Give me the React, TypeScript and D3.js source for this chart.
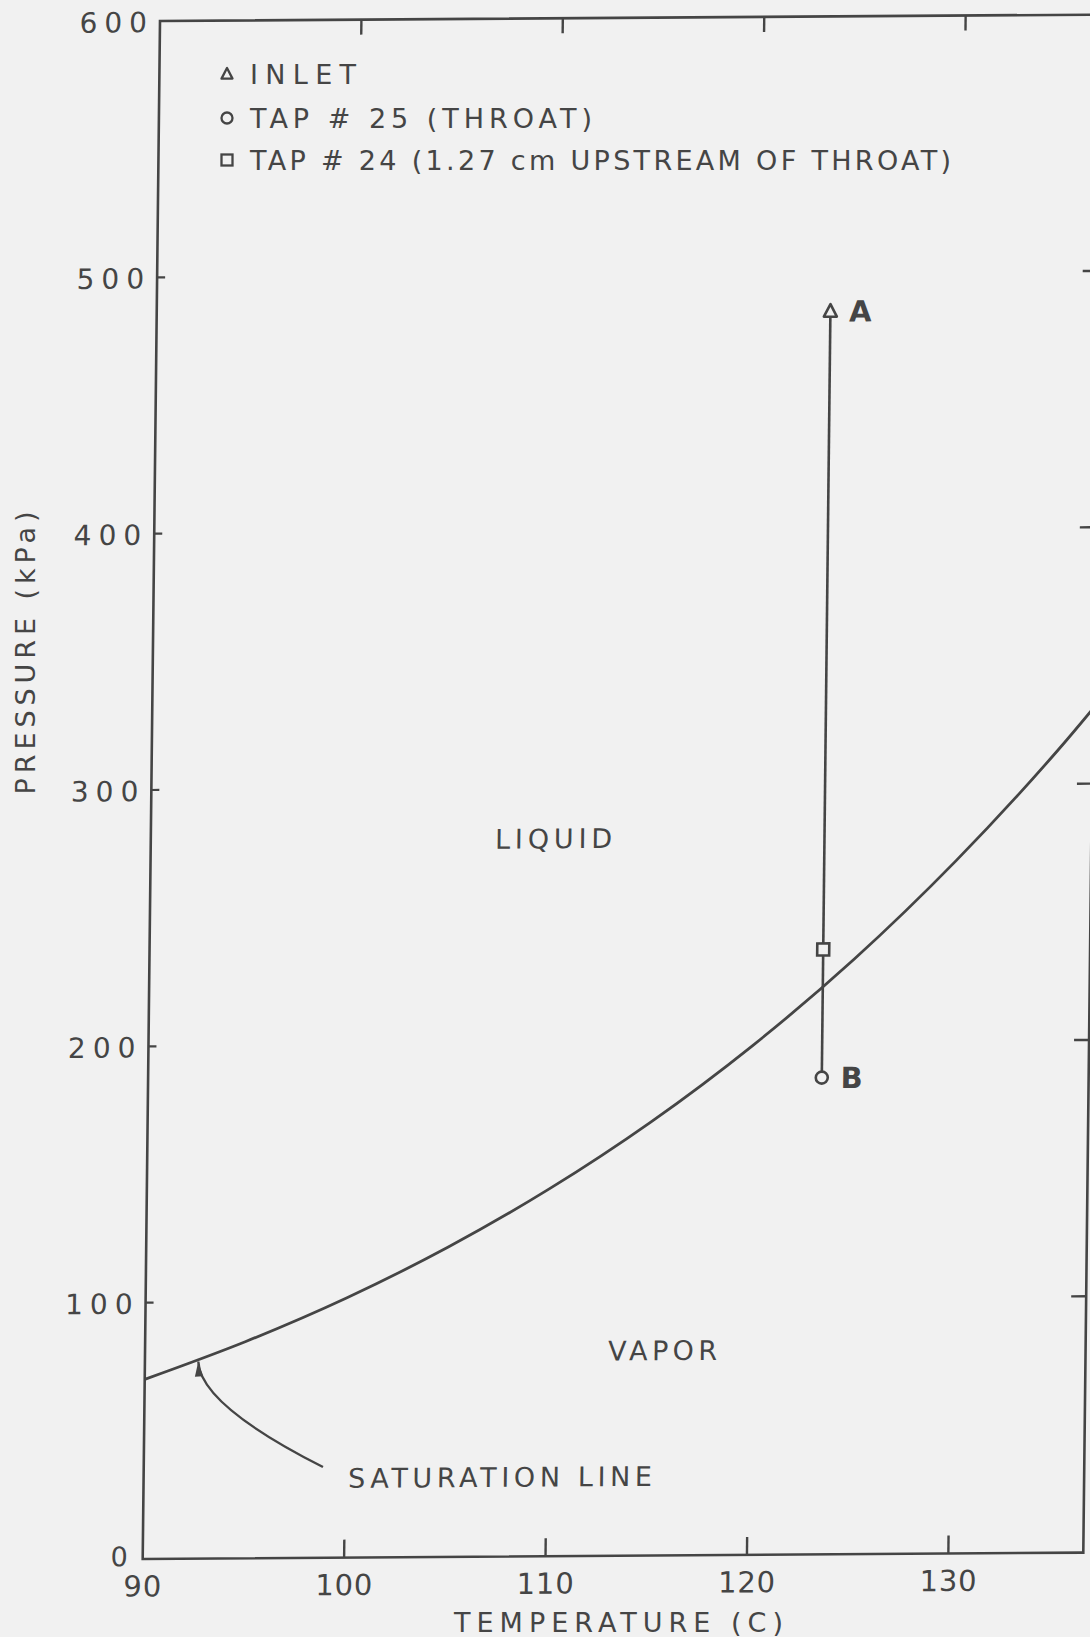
import React from "react";
import * as d3 from "d3";

// Saturation pressure of water (kPa) against temperature (C)
const satTemps = [90, 95, 100, 105, 110, 115, 120, 125, 130, 135, 140];
const satPressures = [70.1, 84.6, 101.4, 120.9, 143.4, 169.2, 198.7, 232.2, 270.3, 313.2, 361.5];

// Measured states along the nozzle
const seriesNames = ["INLET", "TAP # 25 (THROAT)", "TAP # 24 (1.27 cm UPSTREAM OF THROAT)"];
const seriesSymbols = ["triangle", "circle", "square"];
const seriesTemps = [123.45, 123.45, 123.45];
const seriesPressures = [485, 186, 236];
const pointLabels = ["A", "B", ""];

// Axes
const xTicks = [90, 100, 110, 120, 130];
const yTicks = [0, 100, 200, 300, 400, 500, 600];
const xTitle = "TEMPERATURE (C)";
const yTitle = "PRESSURE (kPa)";

// Region annotations (temperature, pressure)
const regionLabels = ["LIQUID", "VAPOR"];
const regionTemps = [110, 115.7];
const regionPressures = [280, 80];

// Callout for the saturation curve
const calloutText = "SATURATION LINE";
const calloutTextAt = [100.15, 31];
const calloutFrom = [98.9, 35.4];
const calloutCtrl = [92.76, 60];
const calloutTo = [92.65, 76.9];

const INK = "#454545";
const BG = "#f1f1f1";
const FONT = "'DejaVu Sans', 'Liberation Sans', sans-serif";
const FS = 27;

const W = 940.6;
const H = 1538;
// scanned sheet is slightly sheared
const SHEAR = "matrix(1,-0.0068,-0.01125,1,160,21)";

function Symbol({ kind, cx, cy, s, sw }: { kind: string; cx: number; cy: number; s: number; sw: number }) {
  if (kind === "triangle") {
    const pts = [
      [cx, cy - s * 0.55],
      [cx - s / 2, cy + s * 0.42],
      [cx + s / 2, cy + s * 0.42],
    ];
    return <polygon points={pts.map((p) => p.join(",")).join(" ")} fill={BG} stroke={INK} strokeWidth={sw} strokeLinejoin="round" />;
  }
  if (kind === "circle") {
    return <circle cx={cx} cy={cy} r={s / 2} fill={BG} stroke={INK} strokeWidth={sw} />;
  }
  return <rect x={cx - s / 2} y={cy - s / 2} width={s} height={s} fill={BG} stroke={INK} strokeWidth={sw} />;
}

export default function App() {
  const x = d3.scaleLinear().domain([90, 136.7]).range([0, W]);
  const y = d3.scaleLinear().domain([0, 600]).range([H, 0]);

  const satLine = d3
    .line<number>()
    .x((_, i) => x(satTemps[i]))
    .y((p) => y(p))
    .curve(d3.curveCatmullRom.alpha(0.5));

  const sym = 13;
  const triIdx = seriesSymbols.indexOf("triangle");
  const cirIdx = seriesSymbols.indexOf("circle");
  const lineTop = y(seriesPressures[triIdx]) + sym * 0.42;
  const lineBot = y(seriesPressures[cirIdx]) - sym / 2;

  const arrowPath = d3.path();
  arrowPath.moveTo(x(calloutFrom[0]), y(calloutFrom[1]));
  arrowPath.quadraticCurveTo(x(calloutCtrl[0]), y(calloutCtrl[1]), x(calloutTo[0]), y(calloutTo[1]));
  const tipX = x(calloutTo[0]);
  const tipY = y(calloutTo[1]);
  const dx = tipX - x(calloutCtrl[0]);
  const dy = tipY - y(calloutCtrl[1]);
  const len = Math.hypot(dx, dy);
  const ux = dx / len;
  const uy = dy / len;
  const headL = 15;
  const headW = 4;
  const head = [
    [tipX, tipY],
    [tipX - ux * headL - uy * headW, tipY - uy * headL + ux * headW],
    [tipX - ux * headL + uy * headW, tipY - uy * headL - ux * headW],
  ];

  const legendWidths = [106, 342, 701];
  const legendY = [74, 118, 160];

  return (
    <svg
      width={1090}
      height={1637}
      style={{ position: "absolute", left: 0, top: 0, display: "block" }}
      fontFamily={FONT}
    >
      <rect x={0} y={0} width={1090} height={1637} fill={BG} />
      <defs>
        <clipPath id="plot-area" clipPathUnits="userSpaceOnUse">
          <rect x={0} y={0} width={W} height={H} />
        </clipPath>
      </defs>

      <g transform={SHEAR}>
        {/* frame */}
        <rect x={0} y={0} width={W} height={H} fill="none" stroke={INK} strokeWidth={2.6} />

        {/* ticks */}
        {xTicks.filter((t) => t > 90).map((t) => (
          <g key={"xt" + t}>
            <line x1={x(t)} x2={x(t)} y1={H} y2={H - 18} stroke={INK} strokeWidth={2.4} />
            <line x1={x(t)} x2={x(t)} y1={0} y2={15} stroke={INK} strokeWidth={2.4} />
          </g>
        ))}
        {yTicks.filter((t) => t > 0 && t < 600).map((t) => (
          <g key={"yt" + t}>
            <line x1={0} x2={8} y1={y(t)} y2={y(t)} stroke={INK} strokeWidth={2.2} />
            <line x1={W} x2={W - 15} y1={y(t)} y2={y(t)} stroke={INK} strokeWidth={2.4} />
          </g>
        ))}

        {/* tick labels */}
        {yTicks.map((t) => {
          const s = String(t);
          return (
            <text
              key={"yl" + t}
              x={t === 0 ? -15 : -13}
              y={y(t) + 0.36 * 28 + (t === 0 ? -3 : 1)}
              textAnchor="end"
              fontSize={t === 0 ? 27 : 28}
              fill={INK}
              textLength={s.length > 1 ? s.length * 22.5 : undefined}
              lengthAdjust="spacing"
            >
              {s}
            </text>
          );
        })}
        {xTicks.map((t) => {
          const s = String(t);
          return (
            <text
              key={"xl" + t}
              x={x(t)}
              y={H + 27 + 0.36 * 29}
              textAnchor="middle"
              fontSize={29}
              fill={INK}
              textLength={s.length * 19}
              lengthAdjust="spacing"
            >
              {s}
            </text>
          );
        })}

        {/* saturation curve */}
        <path
          d={satLine(satPressures) || ""}
          fill="none"
          stroke={INK}
          strokeWidth={2.8}
          clipPath="url(#plot-area)"
        />

        {/* callout */}
        <path d={arrowPath.toString()} fill="none" stroke={INK} strokeWidth={2.4} />
        <polygon points={head.map((p) => p.join(",")).join(" ")} fill={INK} />
        <text
          x={x(calloutTextAt[0])}
          y={y(calloutTextAt[1]) + 0.36 * FS}
          fontSize={FS}
          fill={INK}
          textLength={304}
          lengthAdjust="spacing"
        >
          {calloutText}
        </text>

        {/* regions */}
        {regionLabels.map((r, i) => (
          <text
            key={r}
            x={x(regionTemps[i])}
            y={y(regionPressures[i]) + 0.36 * FS}
            textAnchor="middle"
            fontSize={FS}
            fill={INK}
            textLength={r.length === 6 ? 117 : 109}
            lengthAdjust="spacing"
          >
            {r}
          </text>
        ))}

        {/* process path from inlet to throat */}
        <line
          x1={x(seriesTemps[triIdx])}
          x2={x(seriesTemps[cirIdx])}
          y1={lineTop}
          y2={lineBot}
          stroke={INK}
          strokeWidth={2.6}
        />
        {seriesSymbols.map((k, i) => (
          <g key={"pt" + i}>
            <Symbol kind={k} cx={x(seriesTemps[i])} cy={y(seriesPressures[i])} s={k === "triangle" ? 13 : sym - 1} sw={2.6} />
            {pointLabels[i] && (
              <text
                x={x(seriesTemps[i]) + 30}
                y={y(seriesPressures[i]) + 0.36 * 29}
                textAnchor="middle"
                fontSize={29}
                fontWeight="bold"
                fill={INK}
              >
                {pointLabels[i]}
              </text>
            )}
          </g>
        ))}
      </g>

      {/* legend */}
      {seriesNames.map((n, i) => (
        <g key={"lg" + i}>
          <Symbol kind={seriesSymbols[i]} cx={227} cy={legendY[i]} s={11} sw={2.3} />
          <text
            x={250}
            y={legendY[i] + 0.36 * FS}
            fontSize={FS}
            fill={INK}
            textLength={legendWidths[i]}
            lengthAdjust="spacing"
          >
            {n}
          </text>
        </g>
      ))}

      {/* axis titles */}
      <text
        x={618.5}
        y={1622 + 0.36 * FS}
        textAnchor="middle"
        fontSize={FS}
        fill={INK}
        textLength={329}
        lengthAdjust="spacing"
      >
        {xTitle}
      </text>
      <text
        transform={`translate(${25 + 0.36 * FS},653) rotate(-90)`}
        x={0}
        y={0}
        textAnchor="middle"
        fontSize={FS}
        fill={INK}
        textLength={283}
        lengthAdjust="spacing"
      >
        {yTitle}
      </text>
    </svg>
  );
}
